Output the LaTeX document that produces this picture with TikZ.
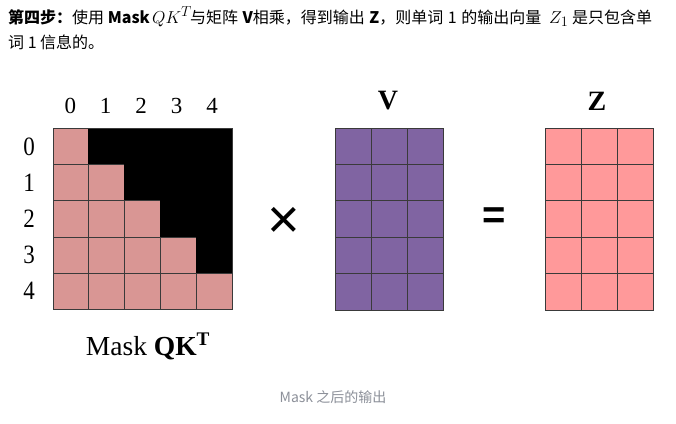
\documentclass[tikz,border=0pt]{standalone}
\usepackage{fontspec}
\setmainfont{Noto Sans CJK SC}
\newfontfamily\tms{Liberation Serif}
\newfontfamily\ars{Liberation Sans}
\definecolor{maskc}{HTML}{D99694}
\definecolor{vc}{HTML}{8064A2}
\definecolor{zc}{HTML}{FF999A}
\definecolor{capc}{HTML}{8C9099}
\definecolor{gridc}{HTML}{3A3A3A}
\newcommand\hsp{\hspace{4.5pt}}
\begin{document}
\begin{tikzpicture}[x=1pt,y=-1pt,
  cellm/.style={draw=gridc, line width=0.7pt, minimum width=35.8pt, minimum height=36.3pt, inner sep=0pt, outer sep=0pt},
  cellv/.style={draw=gridc, line width=0.7pt, fill=vc, minimum width=36pt, minimum height=36.4pt, inner sep=0pt, outer sep=0pt},
  cellz/.style={draw=gridc, line width=0.7pt, fill=zc, minimum width=36.1pt, minimum height=36.4pt, inner sep=0pt, outer sep=0pt},
  cidx/.style={font=\tms\fontsize{23}{23}\selectfont, inner sep=0pt},
  ridx/.style={font=\tms\fontsize{23}{23}\selectfont, inner sep=0pt, yscale=1.15},
  head/.style={font=\fontsize{16}{24}\selectfont, anchor=base west, inner sep=0pt},
  hmath/.style={font=\fontsize{19}{24}\selectfont, anchor=base west, inner sep=0pt},
  mlabel/.style={font=\tms\bfseries\fontsize{28}{28}\selectfont, inner sep=0pt}]
\fill[white] (0,0) rectangle (676,423);
\useasboundingbox (0,0) rectangle (676,423);
% header
\node[head] (h1a) at (8,23) {{\bfseries 第四步：}使用 {\bfseries Mask}};
\node[hmath] (h1b) at (152,23) {$QK^T$};
\node[head] (h1c) at (190,23) {与矩阵\hsp{\bfseries V}相乘，得到输出\hsp{\bfseries Z}，则单词\hsp 1\hsp 的输出向量};
\node[hmath] (h1d) at (549,23) {$Z_1$};
\node[head] (h1e) at (572,23) {是只包含单};
\node[head] (h2) at (8,48) {词 1 信息的。};
% mask matrix
\foreach \r in {0,...,4}{
  \foreach \c in {0,...,4}{
    \ifnum\c>\r \def\fc{black}\def\dc{black}\else\def\fc{maskc}\def\dc{gridc}\fi
    \node[cellm, fill=\fc, draw=\dc] (m\r\c) at (\c*35.8+70.9, \r*36.3+146.15) {};
  }
}
\draw[gridc, line width=0.7pt] (m00.north west) rectangle (m44.south east);
% indices
\foreach \c/\xx in {0/70.3,1/105.5,2/141,3/176.5,4/212}{
  \node[cidx] (ci\c) at (\xx,105.5) {\c};
}
\foreach \r/\yy in {0/147,1/183,2/219,3/255,4/291}{
  \node[ridx] (ri\r) at (29,\yy) {\r};
}
\node[font=\tms\fontsize{27.5}{27.5}\selectfont, anchor=base, inner sep=0pt] (mlab) at (148,355) {Mask \textbf{QK}\textsuperscript{\textbf{T}}};
% times
\node[font=\ars\fontsize{56}{56}\selectfont, inner sep=0pt] (times) at (284,222.5) {×};
% V matrix
\foreach \r in {0,...,4}{
  \foreach \c in {0,...,2}{
    \node[cellv] (v\r\c) at (\c*36+353, \r*36.4+146.2) {};
  }
}
\node[mlabel] (vlab) at (388,101) {V};
% equals
\node[font=\ars\bfseries\fontsize{40}{40}\selectfont, inner sep=0pt] (eq) at (494.5,218) {=};
% Z matrix
\foreach \r in {0,...,4}{
  \foreach \c in {0,...,2}{
    \node[cellz] (z\r\c) at (\c*36.1+563.05, \r*36.4+146.2) {};
  }
}
\node[mlabel] (zlab) at (597,101) {Z};
% caption
\node[font=\fontsize{14}{14}\selectfont, text=capc, anchor=base, inner sep=0pt] (cap) at (333,402) {Mask 之后的输出};
\end{tikzpicture}
\end{document}
